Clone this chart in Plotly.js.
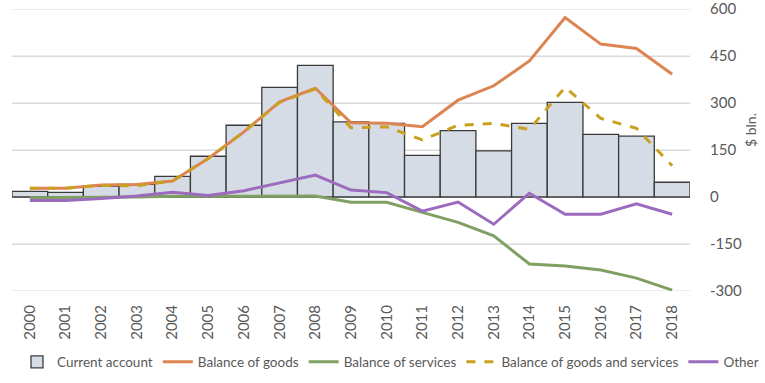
<!DOCTYPE html>
<html>
<head>
<meta charset="utf-8">
<script src="https://cdn.plot.ly/plotly-3.0.1.min.js"></script>
<style>html,body{margin:0;padding:0;background:#fff;}#chart{width:765px;height:383px;}</style>
</head>
<body>
<div id="chart"></div>
<script>
var years = ['2000','2001','2002','2003','2004','2005','2006','2007','2008','2009','2010','2011','2012','2013','2014','2015','2016','2017','2018'];
var currentAccount = [18, 15, 35, 40, 66, 130, 229, 350, 420, 240, 235, 133, 212, 147, 235, 302, 200, 194, 47];
var balanceGoods = [28, 28, 38, 40, 51, 123, 208, 304, 347, 237, 235, 224, 309, 355, 434, 573, 488, 474, 392];
var balanceServices = [-2, -2, 0, 0, 2, 2, 3, 3, 3, -17, -17, -49, -81, -124, -214, -220, -233, -259, -297];
var balanceGoodsServices = [28, 28, 37, 36, 51, 123, 208, 302, 345, 221, 224, 182, 229, 235, 216, 350, 251, 219, 100];
var other = [-11, -11, -5, 3, 15, 5, 20, 45, 70, 22, 14, -45, -16, -87, 12, -55, -55, -22, -55];
var yTicks = [-300, -150, 0, 150, 300, 450, 600];

var fontFam = 'Lato, "Liberation Sans", sans-serif';
var traces = [
  {type:'bar', name:'Current account', x:years, y:currentAccount,
   marker:{color:'#D6DCE5', line:{color:'#3a3a3a', width:1.3}}},
  {type:'scatter', mode:'lines', name:'Balance of goods', x:years, y:balanceGoods,
   line:{color:'#DD8452', width:3}},
  {type:'scatter', mode:'lines', name:'Balance of services', x:years, y:balanceServices,
   line:{color:'#7FA062', width:3}},
  {type:'scatter', mode:'lines', name:'Balance of goods and services', x:years, y:balanceGoodsServices,
   line:{color:'#C9A020', width:3, dash:'dash'}},
  {type:'scatter', mode:'lines', name:'Other', x:years, y:other,
   line:{color:'#9C6BBE', width:3}}
];
var gridShapes = yTicks.map(function (v) {
  return {type:'line', xref:'paper', yref:'y', x0:0, x1:1, y0:v, y1:v, layer:'below',
          line:{color:'#D9D9D9', width:1}};
});
var layout = {
  width:765, height:383,
  margin:{l:12, r:75, t:9, b:92, autoexpand:false},
  paper_bgcolor:'#fff', plot_bgcolor:'#fff',
  font:{family:fontFam, size:13, color:'#595959'},
  bargap:0,
  showlegend:true,
  xaxis:{type:'category', range:[-0.5,18.5], tickangle:-90, showgrid:false, zeroline:false,
         showline:false, ticks:'outside', ticklen:7, tickcolor:'rgba(0,0,0,0)',
         tickfont:{family:fontFam, size:15, color:'#595959'}, fixedrange:true, automargin:false},
  yaxis:{side:'right', range:[-300, 600], tickmode:'array', tickvals:yTicks, ticktext:yTicks.map(String),
         showgrid:true, gridcolor:'#D9D9D9', gridwidth:1, zeroline:false, showline:false,
         ticks:'outside', ticklen:16, tickcolor:'rgba(255,255,255,0)', automargin:false,
         ticklabeloverflow:'allow',
         tickfont:{family:fontFam, size:15, color:'#595959'}},
  shapes: gridShapes,
  legend:{orientation:'h', x:(764-12)/678, xanchor:'right', y:-0.252, yanchor:'middle',
          bgcolor:'rgba(0,0,0,0)',
          font:{family:fontFam, size:13.5, color:'#595959'}, tracegroupgap:0},
  annotations:[{xref:'paper', yref:'paper', x:(750-12)/678, y:(291-130)/282, text:'$ bln.',
                textangle:-90, showarrow:false, font:{family:fontFam, size:14, color:'#595959'},
                xanchor:'center', yanchor:'middle'}]
};
Plotly.newPlot('chart', traces, layout, {displayModeBar:false, staticPlot:true});
</script>
</body>
</html>
